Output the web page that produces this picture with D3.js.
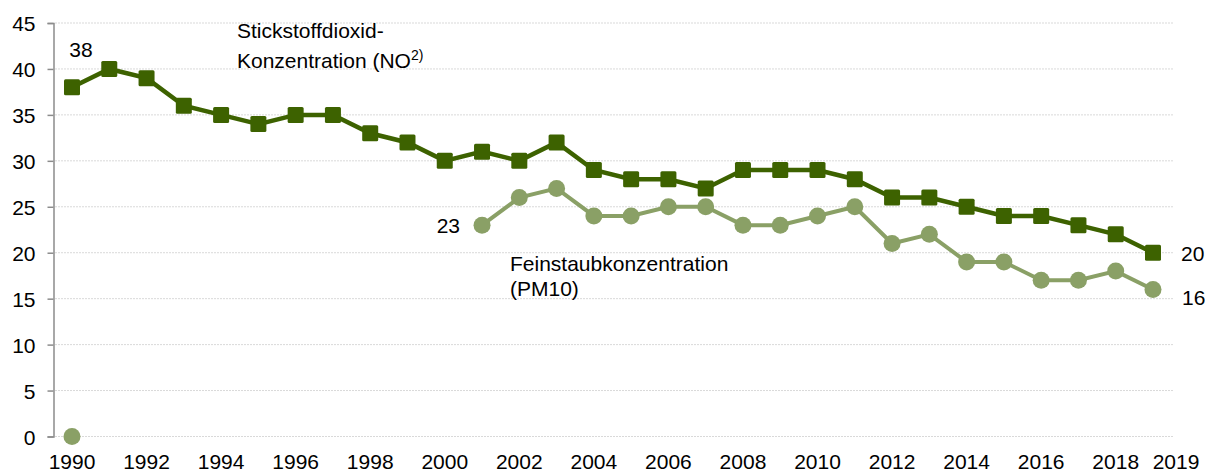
<!DOCTYPE html>
<html>
<head>
<meta charset="utf-8">
<script src="https://cdn.jsdelivr.net/npm/d3@7"></script>
<style>
  body { margin: 0; background: #fff; }
  text { font-family: "Liberation Sans", Arial, sans-serif; fill: #000; }
</style>
</head>
<body>
<div id="chart"></div>
<script>
// data
const years = d3.range(1990, 2020);
const no2 = [38, 40, 39, 36, 35, 34, 35, 35, 33, 32, 30, 31, 30, 32, 29, 28, 28, 27, 29, 29, 29, 28, 26, 26, 25, 24, 24, 23, 22, 20];
const pm10 = [0, null, null, null, null, null, null, null, null, null, null, 23, 26, 27, 24, 24, 25, 25, 23, 23, 24, 25, 21, 22, 19, 19, 17, 17, 18, 16];
const yTicks = [0, 5, 10, 15, 20, 25, 30, 35, 40, 45];
const xTicks = [1990, 1992, 1994, 1996, 1998, 2000, 2002, 2004, 2006, 2008, 2010, 2012, 2014, 2016, 2018, 2019];

const svgWidth = 1205;
const svgHeight = 473;
const fs = "21px";

const svg = d3.select("#chart")
  .append("svg")
  .attr("width", svgWidth)
  .attr("height", svgHeight);

const x = d3.scaleLinear().domain([1990, 2019]).range([72, 1153]);
const y = d3.scaleLinear().domain([0, 45]).range([436.5, 23]);

// gridlines
svg.append("g")
  .selectAll("line")
  .data(yTicks)
  .enter()
  .append("line")
  .attr("x1", 55)
  .attr("x2", 1173)
  .attr("y1", d => y(d))
  .attr("y2", d => y(d))
  .attr("stroke", "#d9d9d9")
  .attr("stroke-width", 1)
  .attr("stroke-dasharray", "2,1");

// y axis
const yAxis = svg.append("g")
  .attr("transform", "translate(53.5,0)")
  .call(d3.axisLeft(y).tickValues(yTicks).tickSize(6).tickPadding(12));
yAxis.select(".domain").attr("stroke", "#8c8c8c").attr("stroke-width", 1.5);
yAxis.selectAll(".tick line").attr("stroke", "#8c8c8c").attr("stroke-width", 1.5);
yAxis.selectAll("text").style("font-size", fs).attr("dy", "0.36em");

// x labels (no axis line)
svg.append("g")
  .selectAll("text")
  .data(xTicks)
  .enter()
  .append("text")
  .attr("x", d => d === 2019 ? x(d) + 23 : x(d))
  .attr("y", 469)
  .attr("text-anchor", "middle")
  .style("font-size", fs)
  .text(d => d);

const line = d3.line()
  .defined(d => d[1] !== null)
  .x(d => x(d[0]))
  .y(d => y(d[1]));

const no2Data = years.map((yr, i) => [yr, no2[i]]);
const pmData = years.map((yr, i) => [yr, pm10[i]]);

// PM10 series
svg.append("path")
  .datum(pmData)
  .attr("d", line)
  .attr("fill", "none")
  .attr("stroke", "#8aa066")
  .attr("stroke-width", 4);

svg.append("g")
  .selectAll("circle")
  .data(pmData.filter(d => d[1] !== null))
  .enter()
  .append("circle")
  .attr("cx", d => x(d[0]))
  .attr("cy", d => y(d[1]))
  .attr("r", 8.5)
  .attr("fill", "#8aa066");

// NO2 series
svg.append("path")
  .datum(no2Data)
  .attr("d", line)
  .attr("fill", "none")
  .attr("stroke", "#3d6200")
  .attr("stroke-width", 4.5);

svg.append("g")
  .selectAll("rect")
  .data(no2Data)
  .enter()
  .append("rect")
  .attr("x", d => x(d[0]) - 8)
  .attr("y", d => y(d[1]) - 8)
  .attr("width", 16)
  .attr("height", 16)
  .attr("rx", 1.5)
  .attr("fill", "#3d6200");

// value labels
const labels = [
  { t: "38", x: 81, y: 57, anchor: "middle" },
  { t: "23", x: 460, y: 233, anchor: "end" },
  { t: "20", x: 1181, y: 261, anchor: "start" },
  { t: "16", x: 1182, y: 305, anchor: "start" }
];
svg.append("g")
  .selectAll("text")
  .data(labels)
  .enter()
  .append("text")
  .attr("x", d => d.x)
  .attr("y", d => d.y)
  .attr("text-anchor", d => d.anchor)
  .style("font-size", fs)
  .text(d => d.t);

// series annotations
svg.append("text")
  .attr("x", 237)
  .attr("y", 38)
  .style("font-size", fs)
  .text("Stickstoffdioxid-");
const noText = svg.append("text")
  .attr("x", 237)
  .attr("y", 68)
  .style("font-size", fs);
noText.append("tspan").text("Konzentration (NO");
noText.append("tspan").attr("dy", -8).style("font-size", "14px").text("2)");

svg.append("text")
  .attr("x", 510)
  .attr("y", 271)
  .style("font-size", fs)
  .text("Feinstaubkonzentration");
svg.append("text")
  .attr("x", 510)
  .attr("y", 296)
  .style("font-size", fs)
  .text("(PM10)");
</script>
</body>
</html>
